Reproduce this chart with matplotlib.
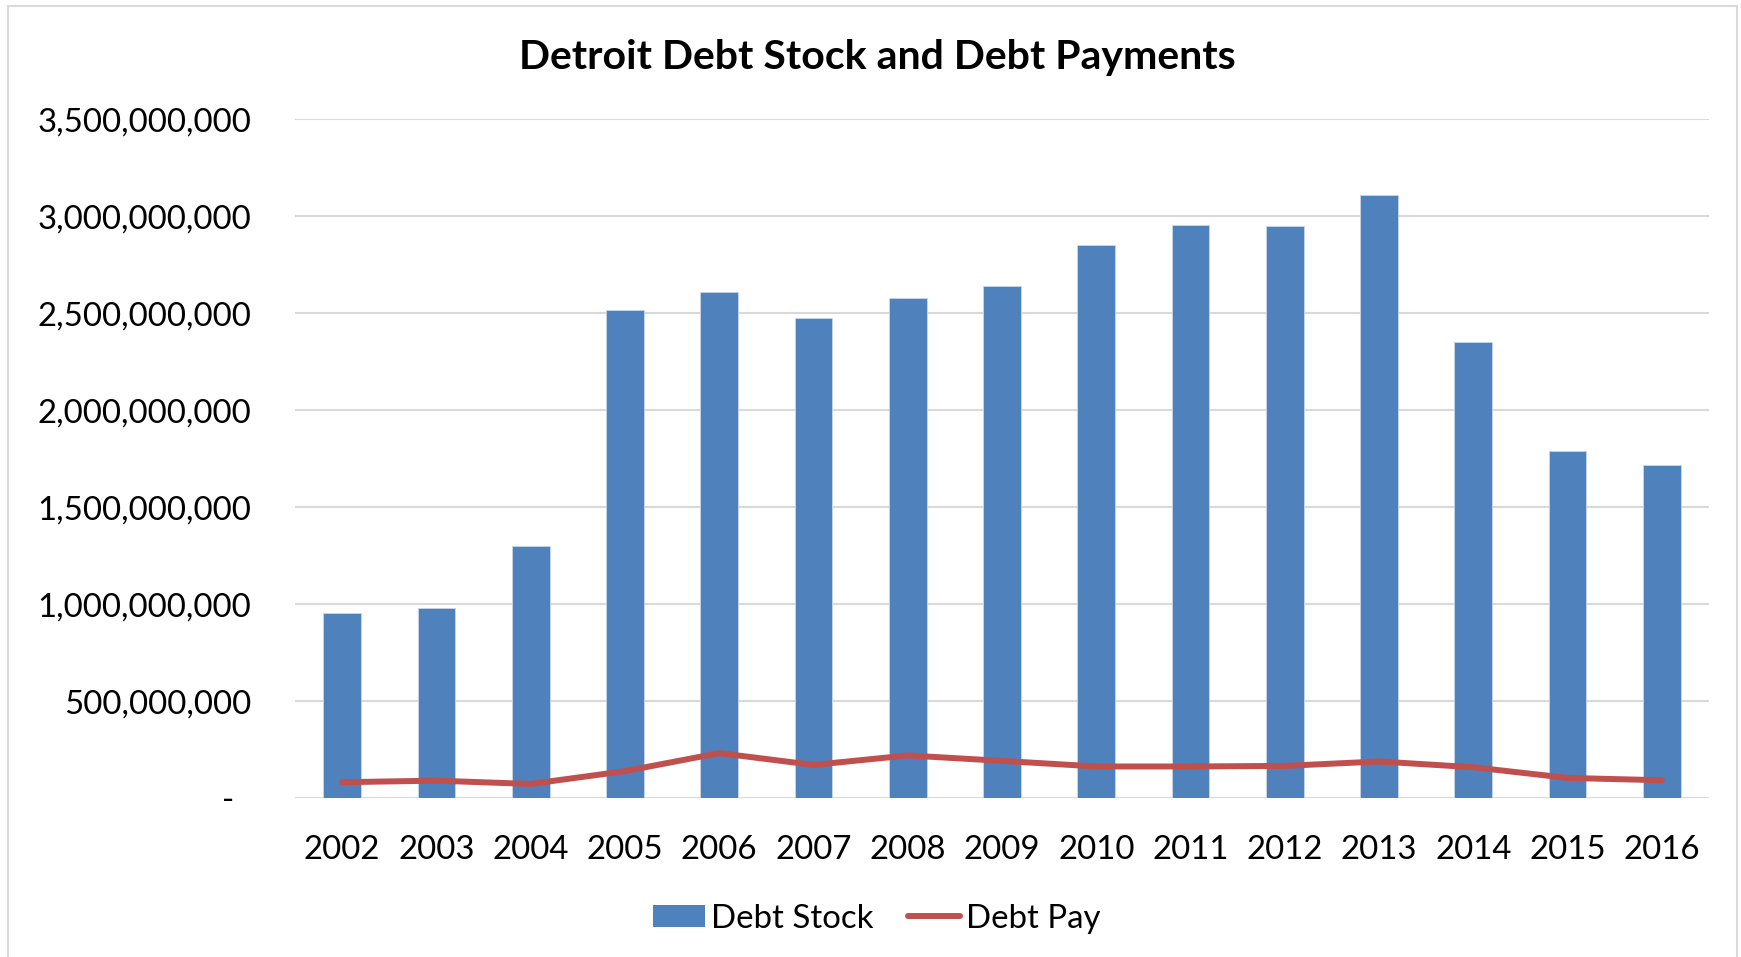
import matplotlib
matplotlib.use("Agg")
import matplotlib.pyplot as plt
from matplotlib.patches import Rectangle, Patch
from matplotlib.lines import Line2D
from matplotlib.ticker import FuncFormatter, MultipleLocator

plt.rcParams['font.family'] = ['Lato', 'DejaVu Sans']

# Data
years = ["2002", "2003", "2004", "2005", "2006", "2007", "2008", "2009",
         "2010", "2011", "2012", "2013", "2014", "2015", "2016"]
debt_stock = [957e6, 983e6, 1301e6, 2517e6, 2608e6, 2474e6, 2581e6, 2639e6,
              2852e6, 2954e6, 2952e6, 3110e6, 2354e6, 1788e6, 1716e6]
debt_pay = [83e6, 91e6, 74e6, 140e6, 233e6, 172e6, 221e6, 193e6,
            164e6, 164e6, 167e6, 190e6, 160e6, 105e6, 93e6]

title = "Detroit Debt Stock and Debt Payments"
bar_label = "Debt Stock"
line_label = "Debt Pay"

BAR_COLOR = "#4F81BD"
LINE_COLOR = "#C0504D"
GRID_COLOR = "#D9D9D9"

W, H = 1741, 957
fig = plt.figure(figsize=(W / 100, H / 100), dpi=100)

# plot area in pixel terms
left, right, top, bottom = 295, 1709, 119.3, 798.3
ax = fig.add_axes([left / W, 1 - bottom / H, (right - left) / W, (bottom - top) / H])

x = list(range(len(years)))
ax.bar(x, debt_stock, width=0.4, color=BAR_COLOR, edgecolor="#C9D6EA",
       linewidth=0.6, zorder=2)
ax.plot(x, debt_pay, color=LINE_COLOR, linewidth=4.3,
        solid_capstyle="round", solid_joinstyle="round", zorder=3)

ax.set_xlim(-0.5, len(years) - 0.5)
ax.set_ylim(0, 3.5e9)
ax.yaxis.set_major_locator(MultipleLocator(5e8))


def fmt(v, pos):
    # accounting style: zero shown as a dash
    if abs(v) < 1:
        return "-  "
    return f"{v:,.0f}"


ax.yaxis.set_major_formatter(FuncFormatter(fmt))
ax.set_xticks(x)
ax.set_xticklabels(years)

ax.grid(axis="y", color=GRID_COLOR, linewidth=1.5, zorder=0)
ax.set_axisbelow(True)
for s in ax.spines.values():
    s.set_visible(False)
ax.tick_params(axis="both", length=0, labelsize=23.8, colors="black")
ax.tick_params(axis="y", pad=31.5)
ax.tick_params(axis="x", pad=26.5)

fig.text(877 / W, 1 - 57.5 / H, title, ha="center", va="center",
         fontsize=29.5, fontweight="bold")

handles = [Patch(facecolor=BAR_COLOR, edgecolor="none"),
           Line2D([0], [0], color=LINE_COLOR, linewidth=4.3, solid_capstyle="round")]
fig.legend(handles, [bar_label, line_label], loc="center",
           bbox_to_anchor=(877 / W, 1 - 918.5 / H), ncol=2, frameon=False,
           fontsize=23.8, handlelength=1.55, handleheight=0.63,
           handletextpad=0.2, columnspacing=1.05, borderpad=0, borderaxespad=0)

# chart border
fig.patches.append(Rectangle((8 / W, -0.02), (1736.5 - 8) / W, 1.02 - 6 / H,
                             transform=fig.transFigure, fill=False,
                             edgecolor=GRID_COLOR, linewidth=1.5))

fig.savefig("out.png", dpi=100)
